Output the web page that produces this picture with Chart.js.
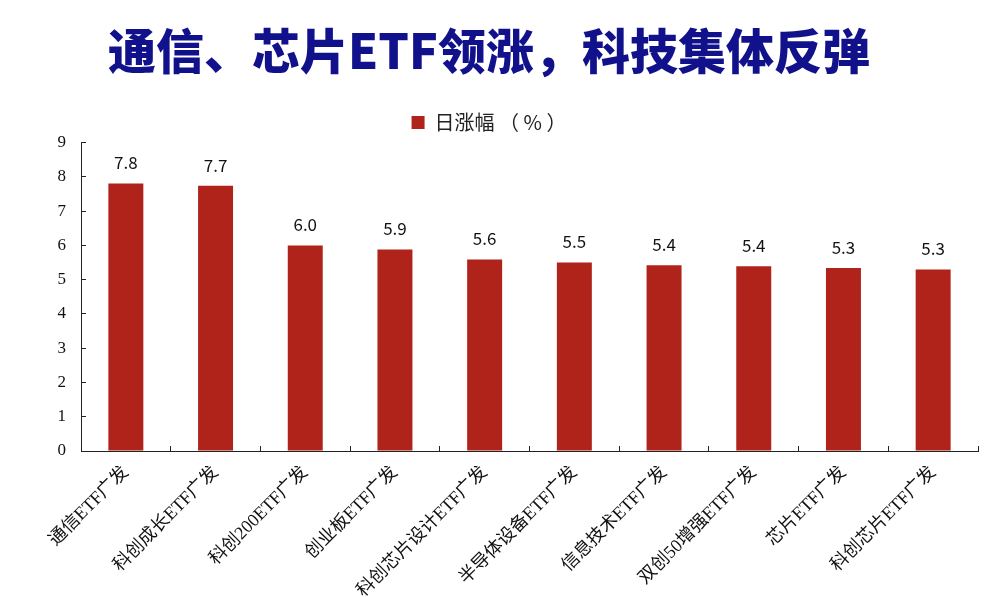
<!DOCTYPE html>
<html>
<head>
<meta charset="utf-8">
<script src="https://cdn.jsdelivr.net/npm/chart.js@4.4.1/dist/chart.umd.min.js"></script>
<style>
  html, body { margin: 0; padding: 0; background: #fff; }
  #wrap { width: 989px; height: 597px; }
</style>
</head>
<body>
<div id="wrap"><canvas id="etf-chart"></canvas></div>
<script>
var categories = ['通信ETF广发', '科创成长ETF广发', '科创200ETF广发', '创业板ETF广发', '科创芯片设计ETF广发',
                  '半导体设备ETF广发', '信息技术ETF广发', '双创50增强ETF广发', '芯片ETF广发', '科创芯片ETF广发'];
var dailyGain = [7.81, 7.74, 6.0, 5.88, 5.59, 5.5, 5.42, 5.39, 5.34, 5.30];
var yTicks = [0, 1, 2, 3, 4, 5, 6, 7, 8, 9];

// value labels above bars
var barLabels = {
    id: 'barLabels',
    afterDatasetsDraw: function (chart) {
        var c = chart.ctx;
        var meta = chart.getDatasetMeta(0);
        c.save();
        c.font = '17px "Noto Sans CJK SC", sans-serif';
        c.fillStyle = '#111';
        c.textAlign = 'center';
        c.textBaseline = 'bottom';
        meta.data.forEach(function (bar, i) {
            c.fillText(dailyGain[i].toFixed(1), bar.x, bar.y - 12);
        });
        c.restore();
    }
};

var ctx = document.getElementById('etf-chart');
var myChart = new Chart(ctx, {
    type: 'bar',
    data: {
        labels: categories,
        datasets: [{
            label: '日涨幅 （ % ）',
            data: dailyGain,
            backgroundColor: '#b0231b',
            categoryPercentage: 1,
            barPercentage: 0.39
        }]
    },
    options: {
        responsive: true,
        maintainAspectRatio: false,
        animation: false,
        layout: { padding: { top: 0, right: 11, left: 0, bottom: 0 } },
        plugins: {
            title: {
                display: true,
                text: '通信、芯片ETF领涨，科技集体反弹',
                color: '#11118c',
                font: { family: '"Noto Sans CJK SC", sans-serif', size: 48, weight: '900' },
                padding: { top: 22, bottom: 23 }
            },
            legend: {
                display: true,
                labels: {
                    boxWidth: 13,
                    boxHeight: 13,
                    color: '#222',
                    font: { family: '"Noto Sans CJK SC", sans-serif', size: 20 }
                }
            },
            tooltip: { enabled: false }
        },
        scales: {
            x: {
                afterFit: function (scale) { scale.height = 146; },
                border: { display: true, color: '#222', width: 1 },
                grid: { display: true, drawOnChartArea: false, drawTicks: true, tickLength: -5, color: '#222', offset: true },
                ticks: {
                    minRotation: 45,
                    maxRotation: 45,
                    padding: 16,
                    color: '#111',
                    font: { family: '"Liberation Serif", "Noto Sans CJK SC", serif', size: 18 }
                }
            },
            y: {
                min: 0,
                max: 9,
                afterFit: function (scale) { scale.width = 81; },
                afterBuildTicks: function (scale) {
                    scale.ticks = yTicks.map(function (v) { return { value: v }; });
                },
                border: { display: true, color: '#222', width: 1 },
                grid: { display: true, drawOnChartArea: false, drawTicks: true, tickLength: -5, color: '#222' },
                ticks: {
                    padding: 20,
                    color: '#111',
                    font: { family: '"Liberation Serif", serif', size: 17 }
                }
            }
        }
    },
    plugins: [barLabels]
});
</script>
</body>
</html>
